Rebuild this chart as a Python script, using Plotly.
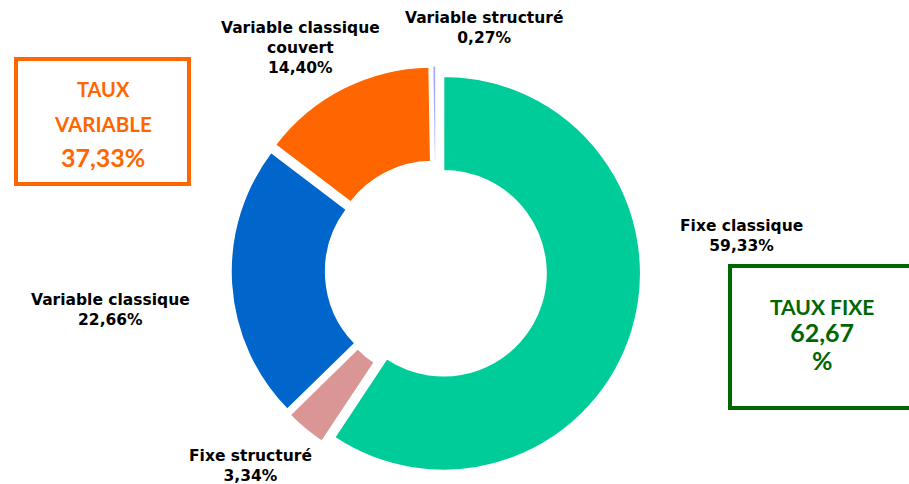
import plotly.graph_objects as go

# slice data, clockwise from 12 o'clock
labels = ['Fixe classique', 'Fixe structuré', 'Variable classique',
          'Variable classique couvert', 'Variable structuré']
values = [59.33, 3.34, 22.66, 14.40, 0.27]
colors = ['#00CC99', '#D99694', '#0066CC', '#FF6600', '#A6A6FF']
fixe = ['Fixe classique', 'Fixe structuré']

W, H = 909, 484


def fr(v):
    return f'{v:.2f}'.replace('.', ',')


def px(x, y):
    # pixel position (top-left origin) -> paper coords
    return x / W, 1 - y / H


taux_fixe = sum(v for l, v in zip(labels, values) if l in fixe)
taux_var = sum(v for l, v in zip(labels, values) if l not in fixe)

fig = go.Figure()
fig.add_trace(go.Pie(
    labels=labels,
    values=values,
    sort=False,
    direction='clockwise',
    rotation=0,
    hole=0.52,
    pull=[0.04] * len(values),
    textinfo='none',
    hoverinfo='label+percent',
    marker=dict(colors=colors, line=dict(color='white', width=1.5)),
    domain=dict(x=[231 / W, 641 / W], y=[8 / H, 418 / H]),
    showlegend=False,
))

# outside labels (Excel style)
label_pos = {
    'Fixe classique': (741, 236),
    'Fixe structuré': (250, 466),
    'Variable classique': (110, 310),
    'Variable classique couvert': (300, 48),
    'Variable structuré': (484, 28),
}
annotations = []
for l, v in zip(labels, values):
    x, y = px(*label_pos[l])
    name = 'Variable classique<br>couvert' if l == 'Variable classique couvert' else l
    annotations.append(dict(
        x=x, y=y, xref='paper', yref='paper', showarrow=False,
        text=f'<b>{name}<br>{fr(v)}%</b>',
        font=dict(family='Verdana, DejaVu Sans', size=15.5, color='black'),
        xanchor='center', yanchor='middle',
    ))

orange = '#FF6600'
green = '#006600'
box_font = 'Lato, Open Sans, sans-serif'
big = "<span style='font-size:25px'>{}</span>"
for txt, y, size, col, cx in [
    ('TAUX', 89, 20, orange, 103),
    ('VARIABLE', 124, 20.5, orange, 103),
    (fr(taux_var) + '%', 157, 25, orange, 103),
    ('TAUX FIXE<br>' + big.format(fr(taux_fixe)) + '<br>' + big.format('%'),
     334, 21, green, 822),
]:
    x, yy = px(cx, y)
    annotations.append(dict(
        x=x, y=yy, xref='paper', yref='paper', showarrow=False,
        text=f'<b>{txt}</b>', font=dict(family=box_font, size=size, color=col),
        xanchor='center', yanchor='middle',
    ))

shapes = []
for (x0, y0, x1, y1), col in [((16, 59, 189, 184), orange),
                              ((730, 266, 912, 408), green)]:
    a0, b1 = px(x0, y0)
    a1, b0 = px(x1, y1)
    shapes.append(dict(type='rect', xref='paper', yref='paper',
                       x0=a0, x1=a1, y0=b0, y1=b1,
                       line=dict(color=col, width=4), fillcolor='rgba(0,0,0,0)'))

fig.update_layout(
    width=W, height=H,
    margin=dict(l=0, r=0, t=0, b=0),
    paper_bgcolor='white', plot_bgcolor='white',
    annotations=annotations,
    shapes=shapes,
)

# drop the default page margin so the figure fills the window
fig.write_html('out.html', config={'displayModeBar': False},
               post_script="document.body.style.margin='0';")
